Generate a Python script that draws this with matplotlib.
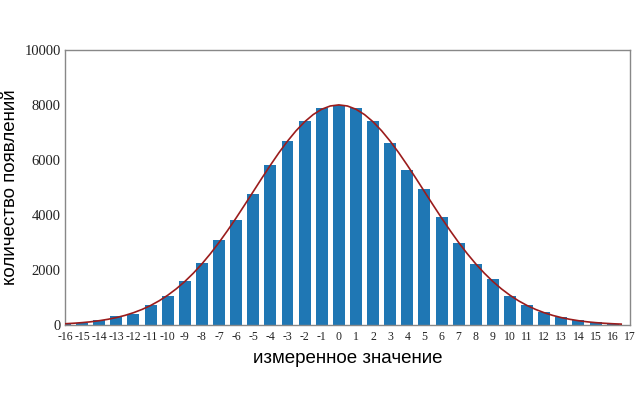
import numpy as np
from matplotlib import pyplot as plt

# значения столбцов
x_vals = list(range(-16, 17))
counts = [60, 85, 180, 320, 420, 730, 1060, 1600, 2240, 3100, 3815, 4760, 5820, 6680, 7400, 7870,
          7985, 7900, 7400, 6600, 5640, 4950, 3910, 2980, 2210, 1665, 1060, 715, 475, 280, 170, 100, 50]

# кривая (шаг 0.5, от 0 до 16.5, симметрично отражается влево)
curve_half = [8000, 7960, 7842, 7648, 7385, 7060, 6682, 6262, 5809, 5336, 4852, 4369, 3894, 3437,
              3002, 2597, 2224, 1886, 1583, 1316, 1083, 882, 711, 568, 449, 351, 272, 209, 159, 119,
              89, 66, 48, 35]
curve_x = [i * 0.5 for i in range(-32, 34)]
curve_y = curve_half[32:0:-1] + curve_half[:34]

tick_labels = [str(i) for i in range(-16, 18)]

fig = plt.figure(figsize=(6.4, 4.12), dpi=100)
ax = fig.add_axes([0.1016, 0.211, 0.8824, 0.668])

ax.bar(x_vals, counts, width=0.7, color='#1f77b4', zorder=2)
ax.plot(curve_x, curve_y, color='#9b1c1c', linewidth=1.2, zorder=3)

ax.set_xlim(-16, 17)
ax.set_ylim(0, 10000)
ax.set_xticks(list(range(-16, 18)))
ax.set_xticklabels(tick_labels)
ax.set_yticks([0, 2000, 4000, 6000, 8000, 10000])

for lab in ax.get_xticklabels():
    lab.set_family('Liberation Serif')
    lab.set_fontsize(8.5)
for lab in ax.get_yticklabels():
    lab.set_family('Liberation Serif')
    lab.set_fontsize(10.5)
ax.tick_params(length=0, colors='#222222')
ax.tick_params(axis='x', pad=4)
ax.tick_params(axis='y', pad=3)
for s in ax.spines.values():
    s.set_color('#888888')
    s.set_linewidth(1.0)

ax.set_xlabel('измеренное значение', family='Liberation Sans', fontsize=13.5, labelpad=5)
ax.set_ylabel('количество появлений', family='Liberation Sans', fontsize=13.5, labelpad=4)

fig.savefig('out.png', dpi=100)
